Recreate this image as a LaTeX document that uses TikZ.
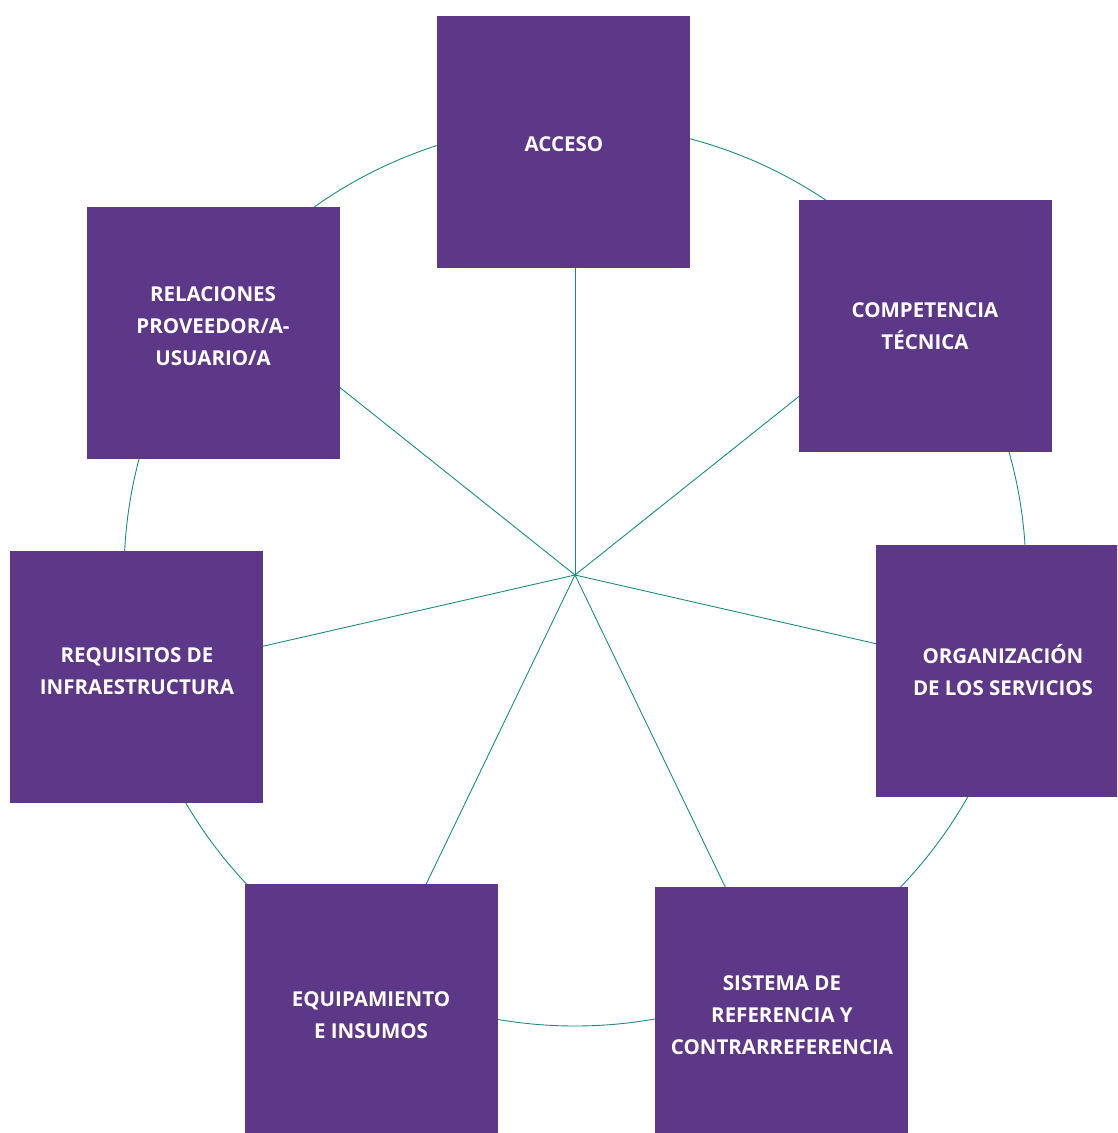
\documentclass[tikz,border=0pt]{standalone}
\usepackage{fontspec}
\setmainfont{Open Sans}
\usetikzlibrary{calc}
\definecolor{boxpurple}{HTML}{5E3888}
\definecolor{spoke}{HTML}{1A8C84}
\begin{document}
\begin{tikzpicture}[x=1pt,y=-1pt,
  box/.style={draw=none,fill=boxpurple,minimum width=253pt,minimum height=252pt,inner sep=0pt},
  lbl/.style={text=white,align=center,font=\fontsize{20.5}{32}\selectfont\bfseries,inner sep=0pt},
  spokeline/.style={draw=spoke,line width=0.9pt}]
\useasboundingbox (0,0) rectangle (1117,1133);
\coordinate (c) at (575,575);
\draw[spokeline] (c) circle[radius=451];
\foreach \i in {0,...,6}{
  \coordinate (p\i) at ($(c)+({451*cos(90-\i*360/7)},{-451*sin(90-\i*360/7)})$);
  \draw[spokeline] (c) -- (p\i);
}
\begin{scope}
\clip (0,0) rectangle (1117,1133);
\node[box] (acc) at (563.5,142) {};
\node[box] (comp) at (925.5,326) {};
\node[box] (org) at (1002,670.5) {};
\node[box] (sis) at (781.5,1013) {};
\node[box] (equ) at (371.5,1010) {};
\node[box] (req) at (136.5,676.5) {};
\node[box] (rel) at (213.5,332.5) {};
\end{scope}
\node[lbl] (tacc) at (564,144) {ACCESO};
\node[lbl] (tcomp) at (925,326) {COMPETENCIA\\TÉCNICA};
\node[lbl] (torg) at (1003,670) {ORGANIZACIÓN\\DE LOS SERVICIOS};
\node[lbl] (tsis) at (782,1015) {SISTEMA DE\\REFERENCIA Y\\CONTRARREFERENCIA};
\node[lbl] (tequ) at (371,1015) {EQUIPAMIENTO\\E INSUMOS};
\node[lbl] (treq) at (137,671) {REQUISITOS DE\\INFRAESTRUCTURA};
\node[lbl] (trel) at (213,326) {RELACIONES\\PROVEEDOR/A-\\USUARIO/A};
\end{tikzpicture}
\end{document}
